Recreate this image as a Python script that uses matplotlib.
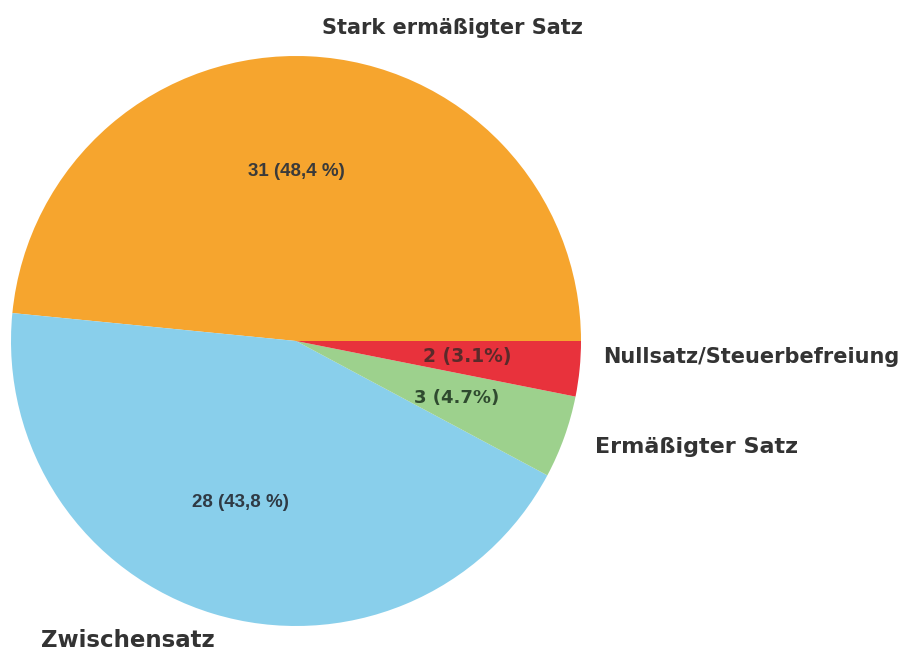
import matplotlib
matplotlib.use('Agg')
import matplotlib.pyplot as plt

# data
categories = ['Stark ermäßigter Satz', 'Zwischensatz', 'Ermäßigter Satz', 'Nullsatz/Steuerbefreiung']
counts = [31, 28, 3, 2]
pct_labels = ['31 (48,4 %)', '28 (43,8 %)', '3 (4.7%)', '2 (3.1%)']
colors = ['#F6A52E', '#89CFEB', '#9DD18D', '#E8323C']


def main():
	fig = plt.figure(figsize=(9.02, 6.51), dpi=100)
	fig.patch.set_facecolor('white')
	# pie centre ~ (296, 341) px, radius ~285 px
	ax = fig.add_axes([11 / 902, 25 / 651, 570 / 902, 570 / 651])
	ax.pie(counts, colors=colors, startangle=0, counterclock=True,
		radius=1.0, wedgeprops=dict(linewidth=0))
	ax.set_xlim(-1, 1)
	ax.set_ylim(-1, 1)
	ax.set_aspect('equal')
	ax.axis('off')

	outer = '#333333'
	# outer labels
	ax.text(0.55, 1.098, categories[0], ha='center', va='center', fontsize=15,
		fontweight='bold', color=outer, family='DejaVu Sans', clip_on=False)
	ax.text(-0.893, -1.05, categories[1], ha='left', va='center', fontsize=16.5,
		fontweight='bold', color=outer, family='DejaVu Sans', clip_on=False)
	ax.text(1.05, -0.372, categories[2], ha='left', va='center', fontsize=16,
		fontweight='bold', color=outer, family='DejaVu Sans', clip_on=False)
	ax.text(1.077, -0.056, categories[3], ha='left', va='center', fontsize=15,
		fontweight='bold', color=outer, family='DejaVu Sans', clip_on=False)

	# inner labels
	ax.text(0.0, 0.593, pct_labels[0], ha='center', va='center', fontsize=13.5,
		fontweight='bold', fontstretch='normal', color='#3a3a3a',
		family=['Liberation Sans', 'Arial', 'DejaVu Sans'])
	ax.text(-0.196, -0.568, pct_labels[1], ha='center', va='center', fontsize=13.5,
		fontweight='bold', fontstretch='normal', color='#2f3a44',
		family=['Liberation Sans', 'Arial', 'DejaVu Sans'])
	ax.text(0.565, -0.2, pct_labels[2], ha='center', va='center', fontsize=13,
		fontweight='bold', color='#2f4a2f', family='DejaVu Sans')
	ax.text(0.6, -0.053, pct_labels[3], ha='center', va='center', fontsize=13.5,
		fontweight='bold', color='#5a2a2a', family='DejaVu Sans')

	fig.savefig('out.png', dpi=100, facecolor='white')


if __name__ == '__main__':
	main()
